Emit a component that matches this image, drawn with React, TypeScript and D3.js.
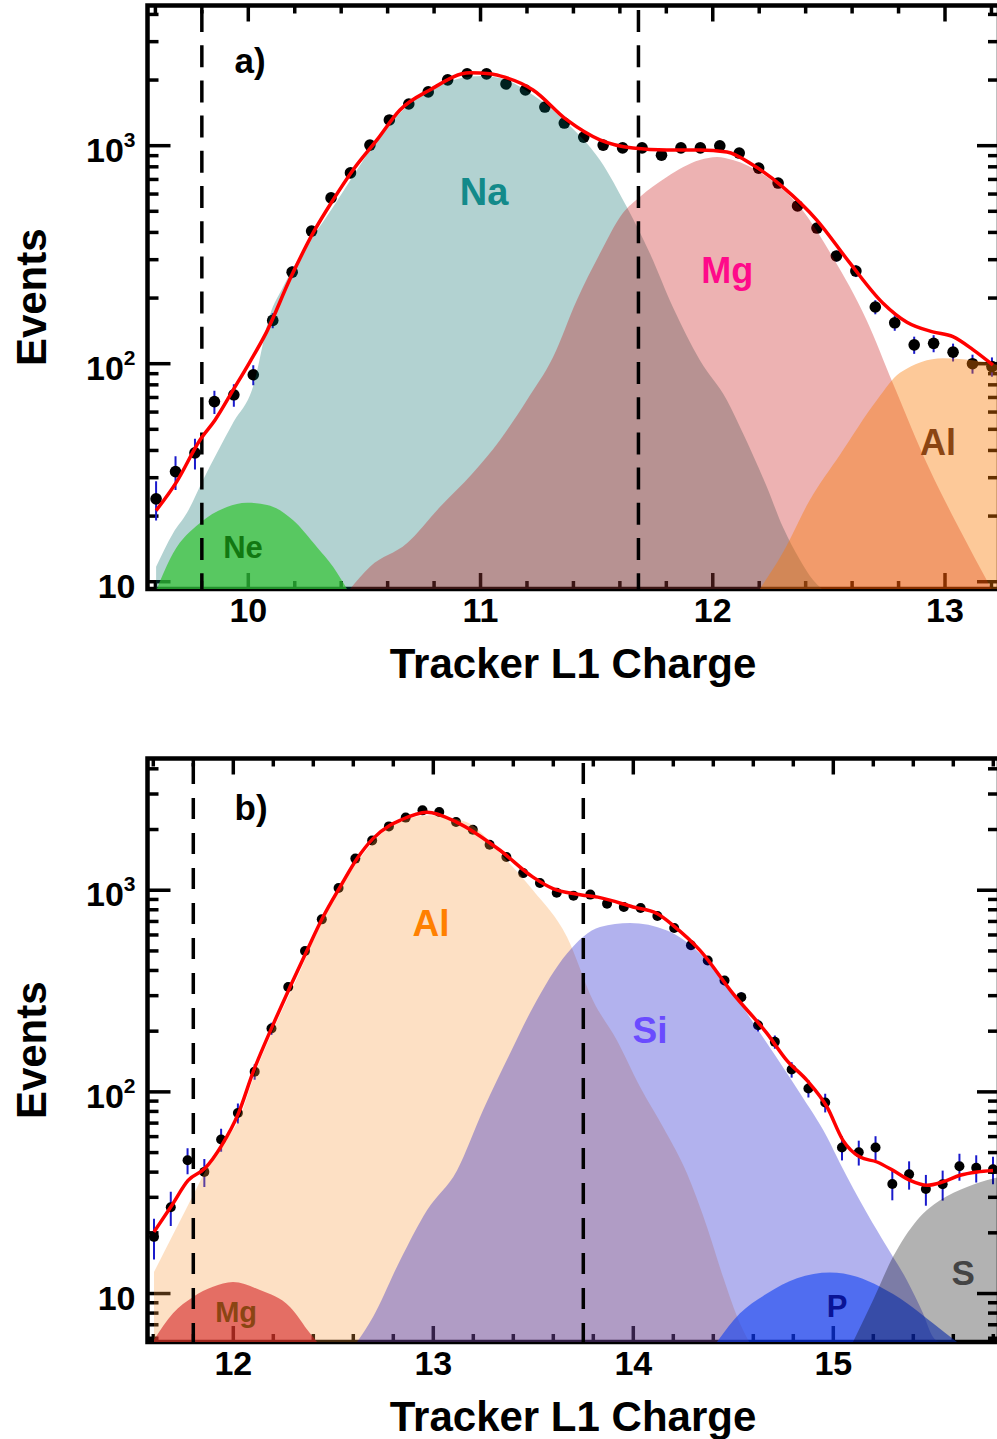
import React, { useEffect } from "react";
import * as d3 from "d3";

type Pt = [number, number];

// ---------- panel a) : Na selection ----------
const aBinStart = 9.603;
const aBinWidth = 0.0837;
const aCounts = [
  24, 32, 39, 67, 72, 89, 158, 263, 406, 576, 750, 1006, 1312, 1553, 1765, 2004,
  2135, 2135, 1919, 1800, 1504, 1270, 1095, 1006, 977, 977, 905, 977, 977, 998,
  925, 789, 674, 529, 419, 312, 266, 182, 154, 122, 124, 113, 100, 97,
];
const aFit: Pt[] = [
  [9.603, 21.2], [9.692, 28.8], [9.792, 44.7], [9.857, 55.2], [9.935, 75.8],
  [10.007, 102], [10.079, 140], [10.18, 245], [10.279, 398], [10.365, 564],
  [10.451, 774], [10.554, 1063], [10.653, 1458], [10.782, 1802], [10.954, 2158],
  [11.04, 2135], [11.084, 2089], [11.226, 1802], [11.372, 1312], [11.514, 1063],
  [11.656, 975], [11.802, 955], [11.944, 955], [12.061, 935], [12.173, 815],
  [12.302, 646], [12.448, 456], [12.59, 290], [12.732, 190], [12.836, 155],
  [12.947, 140], [13.034, 133], [13.12, 116], [13.206, 98.6],
];
const aNa: Pt[] = [
  [9.603, 11.7], [9.676, 16.7], [9.736, 20.7], [9.805, 29.3], [9.934, 53.5],
  [10.02, 78.2], [10.093, 167], [10.149, 224], [10.365, 523], [10.653, 1413],
  [10.825, 1897], [11.002, 2090], [11.084, 2045], [11.226, 1709], [11.372, 1271],
  [11.514, 860], [11.63, 523], [11.729, 321], [11.828, 182], [11.944, 104],
  [12.061, 68], [12.13, 48], [12.233, 27.2], [12.302, 17.8], [12.375, 12.6],
  [12.431, 10.2], [12.47, 9],
];
const aMg: Pt[] = [
  [10.438, 9], [10.524, 11.7], [10.683, 15], [10.825, 22], [10.967, 31.5],
  [11.084, 44.7], [11.2, 68.2], [11.312, 107], [11.415, 196], [11.514, 320],
  [11.613, 491], [11.686, 582], [11.802, 718], [11.944, 859], [12.018, 887],
  [12.087, 859], [12.233, 718], [12.375, 523], [12.517, 308], [12.663, 158],
  [12.775, 81.6], [12.935, 32.5], [13.064, 17.3], [13.2, 9],
];
const aAl: Pt[] = [
  [12.203, 9], [12.302, 13.6], [12.418, 23.7], [12.547, 38.1], [12.707, 68.2],
  [12.806, 90.8], [12.991, 106], [13.163, 102], [13.24, 98],
];
const aNe: Pt[] = [
  [9.607, 9.3], [9.676, 13.5], [9.792, 18.6], [9.908, 22], [9.994, 23],
  [10.081, 22.5], [10.192, 19.2], [10.296, 14.4], [10.365, 11.7], [10.425, 9.2],
];
const aCuts = [9.8, 11.68];
const aMajor = [10, 11, 12, 13];
const aLabels = [
  { text: "Na", c: 11.015, v: 535, color: "#138a8a", size: 38 },
  { text: "Mg", c: 12.062, v: 234, color: "#ff0a8a", size: 36 },
  { text: "Al", c: 12.97, v: 38.1, color: "#8b4513", size: 36 },
  { text: "Ne", c: 9.977, v: 12.8, color: "#127812", size: 31 },
];

// ---------- panel b) : Al selection ----------
const bBinStart = 11.6035;
const bBinWidth = 0.0839;
const bCounts = [
  19.1, 26.8, 45.8, 40.1, 58.1, 78.6, 126, 206, 331, 500, 717, 1026, 1435, 1766,
  2073, 2291, 2489, 2442, 2178, 1996, 1682, 1461, 1216, 1086, 972, 940, 951, 858,
  825, 816, 745, 650, 533, 448, 357, 295, 214, 177, 129, 104, 88.5, 53, 50.2, 53,
  34.9, 39, 33, 34.8, 42.8, 42, 41.3,
];
const bFit: Pt[] = [
  [11.6035, 20.2], [11.693, 27.4], [11.774, 36.4], [11.8585, 41.8], [11.942, 54.3],
  [12.025, 78], [12.0985, 125], [12.1985, 215], [12.2835, 331], [12.3685, 503],
  [12.4485, 736], [12.5335, 1037], [12.6185, 1434], [12.6985, 1803], [12.7835, 2099],
  [12.8335, 2222], [12.9685, 2438], [13.1185, 2172], [13.3335, 1578], [13.4985, 1161],
  [13.5985, 1018], [13.7185, 955], [13.8335, 919], [13.9985, 826], [14.1185, 766],
  [14.1985, 670], [14.3335, 503], [14.4985, 307], [14.6685, 195], [14.7685, 143],
  [14.8685, 114], [14.9685, 84.2], [15.0485, 57.5], [15.1335, 47.5], [15.2185, 44.9],
  [15.2985, 40.8], [15.3835, 36.4], [15.4685, 34.4], [15.5485, 35.8], [15.6335, 38.6],
  [15.7185, 40.1], [15.7985, 40.8],
];
const bAl: Pt[] = [
  [11.6035, 12.8], [11.7685, 26.8], [11.9185, 51.3], [12.0335, 75.1], [12.0985, 116],
  [12.1985, 202], [12.2985, 331], [12.4485, 710], [12.6185, 1374], [12.7835, 2050],
  [12.9835, 2353], [13.1685, 2172], [13.3335, 1525], [13.4985, 1000], [13.6685, 587],
  [13.7985, 284], [13.9185, 180], [14.0335, 106], [14.1485, 67], [14.2685, 39.4],
  [14.3685, 21.4], [14.4485, 12.1], [14.5335, 7.1], [14.58, 5.6],
];
const bSi: Pt[] = [
  [12.6185, 5.6], [12.6985, 7.66], [12.8335, 14.6], [12.9685, 25.9], [13.1185, 40.8],
  [13.2485, 81.1], [13.3835, 155], [13.4985, 263], [13.6685, 486], [13.8335, 657],
  [13.9835, 688], [14.1685, 632], [14.3335, 486], [14.4985, 308], [14.6685, 174],
  [14.8335, 98.4], [14.9685, 59.7], [15.0335, 44.3], [15.1685, 25], [15.2685, 17],
  [15.3685, 11.6], [15.4485, 7.98], [15.4985, 6.09], [15.53, 5.6],
];
const bMg: Pt[] = [
  [11.6035, 5.9], [11.6985, 7.98], [11.7985, 9.62], [11.8985, 10.8], [11.9985, 11.4],
  [12.1335, 10.4], [12.2835, 8.58], [12.3835, 6.35], [12.4185, 5.6],
];
const bP: Pt[] = [
  [14.418, 5.6], [14.5335, 7.98], [14.6685, 10], [14.8185, 11.9], [14.9835, 12.7],
  [15.1185, 12.1], [15.2335, 10.8], [15.3685, 8.96], [15.4985, 7.13], [15.6185, 5.6],
];
const bS: Pt[] = [
  [15.0985, 5.6], [15.1985, 9.27], [15.2985, 15.2], [15.4185, 23.1], [15.5335, 29],
  [15.6685, 33.8], [15.7985, 37.2], [15.84, 38],
];
const bCuts = [11.8, 13.75];
const bMajor = [12, 13, 14, 15];
const bLabels = [
  { text: "Al", c: 12.989, v: 591, color: "#ff8000", size: 37 },
  { text: "Si", c: 14.084, v: 174, color: "#6a4bff", size: 37 },
  { text: "P", c: 15.019, v: 7.63, color: "#0a1496", size: 31 },
  { text: "S", c: 15.649, v: 11.0, color: "#444444", size: 35 },
  { text: "Mg", c: 12.014, v: 7.21, color: "#8b4513", size: 29 },
];

const FONT = "'Liberation Sans', Arial, Helvetica, sans-serif";

type Comp = { pts: Pt[]; fill: string; opacity: number };
type Label = { text: string; c: number; v: number; color: string; size: number };

interface PanelProps {
  id: string;
  tag: string;
  tagDy: number;
  left: number;
  right: number;
  top: number;
  bottom: number;
  xDomain: [number, number];
  yDomain: [number, number];
  major: number[];
  binStart: number;
  binWidth: number;
  counts: number[];
  fit: Pt[];
  comps: Comp[];
  cuts: number[];
  dash: string;
  labels: Label[];
  dotR: number;
}

function Panel(p: PanelProps) {
  const x = d3.scaleLinear().domain(p.xDomain).range([p.left, p.right]);
  const y = d3.scaleLog().domain(p.yDomain).range([p.bottom, p.top]).clamp(true);

  const area = d3
    .area<Pt>()
    .x((d) => x(d[0]))
    .y0(p.bottom)
    .y1((d) => y(d[1]))
    .curve(d3.curveMonotoneX);
  const line = d3
    .line<Pt>()
    .x((d) => x(d[0]))
    .y((d) => y(d[1]))
    .curve(d3.curveMonotoneX);

  // minor x ticks every 0.2
  const xTicks = d3
    .range(Math.ceil(p.xDomain[0] * 5), Math.floor(p.xDomain[1] * 5) + 1)
    .map((k) => k / 5);
  const isMajor = (t: number) => Math.abs(t - Math.round(t)) < 1e-6;

  // log ticks
  const yTicks: number[] = [];
  for (let e = 0; e <= 3; e++)
    for (let m = 1; m <= 9; m++) {
      const v = m * Math.pow(10, e);
      if (v >= p.yDomain[0] && v <= p.yDomain[1]) yTicks.push(v);
    }
  const yMajor = yTicks.filter((v) => Math.abs(Math.log10(v) - Math.round(Math.log10(v))) < 1e-9);

  const points = p.counts.map((n, i) => ({ c: p.binStart + i * p.binWidth, n }));
  const clip = `clip-${p.id}`;
  const midY = (p.top + p.bottom) / 2;

  return (
    <g>
      <defs>
        <clipPath id={clip}>
          <rect x={p.left} y={p.top} width={p.right - p.left} height={p.bottom - p.top} />
        </clipPath>
      </defs>

      {/* ticks */}
      <g stroke="#000" strokeWidth={3.5}>
        {xTicks.map((t) => {
          const len = isMajor(t) ? 16 : 8;
          return (
            <g key={"xt" + t}>
              <line x1={x(t)} x2={x(t)} y1={p.bottom} y2={p.bottom - len} />
              <line x1={x(t)} x2={x(t)} y1={p.top} y2={p.top + len} />
            </g>
          );
        })}
        {yTicks.map((v) => {
          const maj = yMajor.includes(v);
          return (
            <g key={"yt" + v}>
              <line x1={p.left} x2={p.left + (maj ? 23 : 11)} y1={y(v)} y2={y(v)} />
              <line x1={p.right} x2={p.right - (maj ? 22 : 11)} y1={y(v)} y2={y(v)} />
            </g>
          );
        })}
      </g>

      {/* frame */}
      <rect
        x={p.left}
        y={p.top}
        width={p.right - p.left}
        height={p.bottom - p.top}
        fill="none"
        stroke="#000"
        strokeWidth={4.5}
      />

      {/* data points */}
      <g clipPath={`url(#${clip})`}>
        {points.map((d, i) => (
          <line
            key={"e" + i}
            x1={x(d.c)}
            x2={x(d.c)}
            y1={y(d.n + Math.sqrt(d.n))}
            y2={y(d.n - Math.sqrt(d.n))}
            stroke="#1a1acc"
            strokeWidth={2}
          />
        ))}
        {points.map((d, i) => (
          <circle key={"d" + i} cx={x(d.c)} cy={y(d.n)} r={p.dotR} fill="#000" />
        ))}
      </g>

      {/* fitted components */}
      <g clipPath={`url(#${clip})`}>
        {p.comps.map((c, i) => (
          <path key={"a" + i} d={area(c.pts) || ""} fill={c.fill} fillOpacity={c.opacity} />
        ))}
      </g>

      {/* selection cuts */}
      {p.cuts.map((c) => (
        <line
          key={"cut" + c}
          x1={x(c)}
          x2={x(c)}
          y1={p.top + 4.5}
          y2={p.bottom}
          stroke="#000"
          strokeWidth={3.5}
          strokeDasharray={p.dash}
        />
      ))}

      {/* total fit */}
      <path
        d={line(p.fit) || ""}
        fill="none"
        stroke="#ff0000"
        strokeWidth={3.5}
        clipPath={`url(#${clip})`}
      />

      {/* component labels */}
      {p.labels.map((l) => (
        <text
          key={l.text}
          x={x(l.c)}
          y={y(l.v)}
          textAnchor="middle"
          fontFamily={FONT}
          fontWeight="bold"
          fontSize={l.size}
          fill={l.color}
        >
          {l.text}
        </text>
      ))}

      <text
        x={p.left + 87}
        y={p.top + p.tagDy}
        fontFamily={FONT}
        fontWeight="bold"
        fontSize={35}
        fill="#000"
      >
        {p.tag}
      </text>

      {/* axis labels */}
      {p.major.map((t) => (
        <text
          key={"xl" + t}
          x={x(t)}
          y={p.bottom + 33}
          textAnchor="middle"
          fontFamily={FONT}
          fontWeight="bold"
          fontSize={34}
        >
          {t}
        </text>
      ))}
      {yMajor.map((v) => {
        const e = Math.round(Math.log10(v));
        return (
          <text
            key={"yl" + v}
            x={p.left - 12}
            y={y(v) + 16}
            textAnchor="end"
            fontFamily={FONT}
            fontWeight="bold"
            fontSize={34}
          >
            10
            {e > 1 ? (
              <tspan fontSize={21} dy={-15}>
                {e}
              </tspan>
            ) : null}
          </text>
        );
      })}

      <text
        x={573}
        y={p.bottom + 89}
        textAnchor="middle"
        fontFamily={FONT}
        fontWeight="bold"
        fontSize={42}
      >
        Tracker L1 Charge
      </text>
      <text
        transform={`translate(46,${midY}) rotate(-90)`}
        textAnchor="middle"
        fontFamily={FONT}
        fontWeight="bold"
        fontSize={42}
      >
        Events
      </text>
    </g>
  );
}

export default function App() {
  useEffect(() => {
    document.body.style.margin = "0";
  }, []);

  return (
    <svg
      width={997}
      height={1439}
      viewBox="0 0 997 1439"
      style={{ display: "block", background: "#fff" }}
      xmlns="http://www.w3.org/2000/svg"
    >
      <Panel
        id="a"
        tag="a)"
        tagDy={67}
        left={147.5}
        right={999}
        top={5.5}
        bottom={589}
        xDomain={[9.566, 13.2325]}
        yDomain={[9.26, 4395]}
        major={aMajor}
        binStart={aBinStart}
        binWidth={aBinWidth}
        counts={aCounts}
        fit={aFit}
        comps={[
          { pts: aNa, fill: "rgb(0,105,102)", opacity: 0.3 },
          { pts: aMg, fill: "rgb(195,0,0)", opacity: 0.3 },
          { pts: aAl, fill: "rgb(250,120,0)", opacity: 0.4 },
          { pts: aNe, fill: "rgb(50,195,50)", opacity: 0.7 },
        ]}
        cuts={aCuts}
        dash="22 13.2"
        labels={aLabels}
        dotR={5.8}
      />
      <Panel
        id="b"
        tag="b)"
        tagDy={61}
        left={147.5}
        right={999}
        top={758.5}
        bottom={1342}
        xDomain={[11.571, 15.8285]}
        yDomain={[5.75, 4500]}
        major={bMajor}
        binStart={bBinStart}
        binWidth={bBinWidth}
        counts={bCounts}
        fit={bFit}
        comps={[
          { pts: bAl, fill: "rgb(248,152,58)", opacity: 0.3 },
          { pts: bSi, fill: "rgb(0,0,200)", opacity: 0.3 },
          { pts: bMg, fill: "rgb(211,34,36)", opacity: 0.6 },
          { pts: bP, fill: "rgb(15,63,242)", opacity: 0.6 },
          { pts: bS, fill: "rgb(0,0,0)", opacity: 0.3 },
        ]}
        cuts={bCuts}
        dash="21 14"
        labels={bLabels}
        dotR={5}
      />
    </svg>
  );
}
